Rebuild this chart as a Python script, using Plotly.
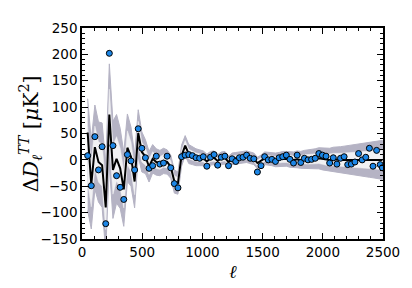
import plotly.graph_objects as go

# multipole bin centres
ell = [47, 77, 107, 137, 167, 197, 227, 257, 287, 317, 347, 377, 407, 437, 467, 497,
       527, 557, 587, 617, 647, 677, 707, 737, 767, 797, 827, 857, 887, 917, 947, 977,
       1007, 1037, 1067, 1097, 1127, 1157, 1187, 1217, 1247, 1277, 1307, 1337, 1367,
       1397, 1427, 1457, 1487, 1517, 1547, 1577, 1607, 1637, 1667, 1697, 1727, 1757,
       1787, 1817, 1847, 1877, 1907, 1937, 1967, 1997, 2027, 2057, 2087, 2117, 2147,
       2177, 2207, 2237, 2267, 2297, 2327, 2357, 2387, 2417, 2447, 2477, 2495]

# residual data points (muK^2)
resid = [8, -49, 44, -19, 25, -121, 202, 27, -30, -52, -75, 10, -2, -19, 59, 22,
         4, -16, -11, 7, -8, -6, 7, -15, -45, -53, 6, 9, 10, 8, 4, 3,
         6, -12, 5, 10, -10, 5, 7, -11, 2, -3, 4, 5, 9,
         3, 2, -23, -11, 6, 0, 1, -3, 4, 6, 9, 1, -6,
         9, -5, 3, 0, 1, 3, 12, 9, 7, -6, 4, -8, 3,
         6, -9, -8, -4, 12, 0, 5, 22, -12, 18, -9, -15]

# model curve (black line)
model = [52, -47, 24, -4, -10, -90, 86, -19, 2, -16, -56, 23, 6, -41, 51, 15,
         6, -13, 2, -4, -6, -2, -4, -13, -41, -44, 8, 27, 11, 8, 5, 4,
         3, -3, 3, 4, -2, 3, 4, -4, 2, 3, 4, 5, 6,
         4, 2, -6, -2, 3, 2, 1, 0, 1, 2, 2, 1, 0,
         1, 0, 1, 1, 1, 2, 3, 2, 1, 0, 1, 0, 0,
         0, 0, 0, 0, 0, 0, 0, 0, 0, 0, 0, 0]

# band centre (follows the model, except at the lowest bin)
band_mid = [10, -47, 24, -4, -10, -90, 86, -19, 2, -16, -56, 23, 6, -41, 51, 15,
            6, -13, 2, -4, -6, -2, -4, -13, -41, -44, 8, 27, 11, 8, 5, 4,
            3, -3, 3, 4, -2, 3, 4, -4, 2, 3, 4, 5, 6,
            4, 2, -6, -2, 3, 2, 1, 0, 1, 2, 2, 1, 0,
            1, 0, 1, 1, 1, 2, 3, 2, 1, 0, 1, 0, 0,
            0, 0, 0, 0, 0, 0, 0, 0, 0, 0, 0, 0]

# 1-sigma half width of the band
sigma = [53, 42, 40, 38, 40, 42, 48, 46, 42, 38, 35, 32, 28, 25, 22, 19,
         16, 14.5, 13.5, 12.5, 12, 12, 11.5, 11, 11, 10.5, 10, 9.5, 9, 8.5, 8, 7.5,
         7, 7, 6.5, 6.5, 6, 6, 6, 5.5, 5.5, 5.5, 5.5, 5.5, 5.5,
         5.5, 5.5, 5.5, 5.5, 6, 6, 6, 6.5, 6.5, 7, 7, 7.5, 7.5,
         8, 8, 8.5, 9, 9, 9.5, 10, 10.5, 11, 11, 11.5, 12, 12.5,
         13, 13.5, 14, 14.5, 15, 15.5, 16, 16.5, 17, 17.5, 18, 18.5]

x_ticks = [0, 500, 1000, 1500, 2000, 2500]
y_ticks = [-150, -100, -50, 0, 50, 100, 150, 200, 250]

up2 = [m + 2 * s for m, s in zip(band_mid, sigma)]
lo2 = [m - 2 * s for m, s in zip(band_mid, sigma)]
up1 = [m + s for m, s in zip(band_mid, sigma)]
lo1 = [m - s for m, s in zip(band_mid, sigma)]

DARK = "#b5b3c4"
LIGHT = "#f1f1f3"

fig = go.Figure()
fig.add_trace(go.Scatter(x=ell + ell[::-1], y=up2 + lo2[::-1], fill="toself",
                         fillcolor=DARK, line=dict(color=DARK, width=1),
                         mode="lines", hoverinfo="skip", showlegend=False))
fig.add_trace(go.Scatter(x=ell + ell[::-1], y=up1 + lo1[::-1], fill="toself",
                         fillcolor=LIGHT, line=dict(color=LIGHT, width=0.5),
                         mode="lines", hoverinfo="skip", showlegend=False))
fig.add_trace(go.Scatter(x=ell, y=model, mode="lines",
                         line=dict(color="black", width=2), showlegend=False))
fig.add_trace(go.Scatter(x=ell, y=resid, mode="markers",
                         marker=dict(size=6, color="#1c86e6",
                                     line=dict(color="black", width=1)),
                         cliponaxis=True, showlegend=False))

tickfont = dict(family="DejaVu Sans", size=13.5, color="black")
axis_common = dict(showline=True, linecolor="black", linewidth=1.5, mirror="allticks",
                   ticks="inside", ticklen=6, tickwidth=1, tickcolor="black",
                   showgrid=False, zeroline=False, tickfont=tickfont)

fig.update_xaxes(range=[0, 2500], tickvals=x_ticks, ticktext=[str(v) for v in x_ticks],
                 minor=dict(ticks="inside", dtick=100, ticklen=3, tickcolor="black",
                            showgrid=False),
                 **axis_common)
fig.update_yaxes(range=[-150, 250], tickvals=y_ticks,
                 ticktext=[("\u2212" + str(-v)) if v < 0 else str(v) for v in y_ticks],
                 minor=dict(ticks="inside", dtick=10, ticklen=3, tickcolor="black",
                            showgrid=False),
                 **axis_common)

fig.add_annotation(text="\u0394<i>D</i><sub><i>\u2113</i></sub><sup><i>TT</i></sup> [<i>\u03bc</i>K<sup>2</sup>]",
                   xref="paper", yref="paper", x=-0.17, y=0.5, textangle=-90,
                   showarrow=False, font=dict(family="DejaVu Serif", size=20.5, color="black"),
                   xanchor="center", yanchor="middle")
fig.add_annotation(text="<i>\u2113</i>", xref="paper", yref="paper", x=0.5, y=-0.153,
                   showarrow=False, font=dict(family="DejaVu Serif", size=18, color="black"),
                   xanchor="center", yanchor="middle")

# page body has an 8px margin: shrink figure by 8px and move plot area accordingly
fig.update_layout(width=404, height=280, margin=dict(l=74, r=24, t=15, b=49),
                  paper_bgcolor="white", plot_bgcolor="white")

fig.write_html("out.html")
